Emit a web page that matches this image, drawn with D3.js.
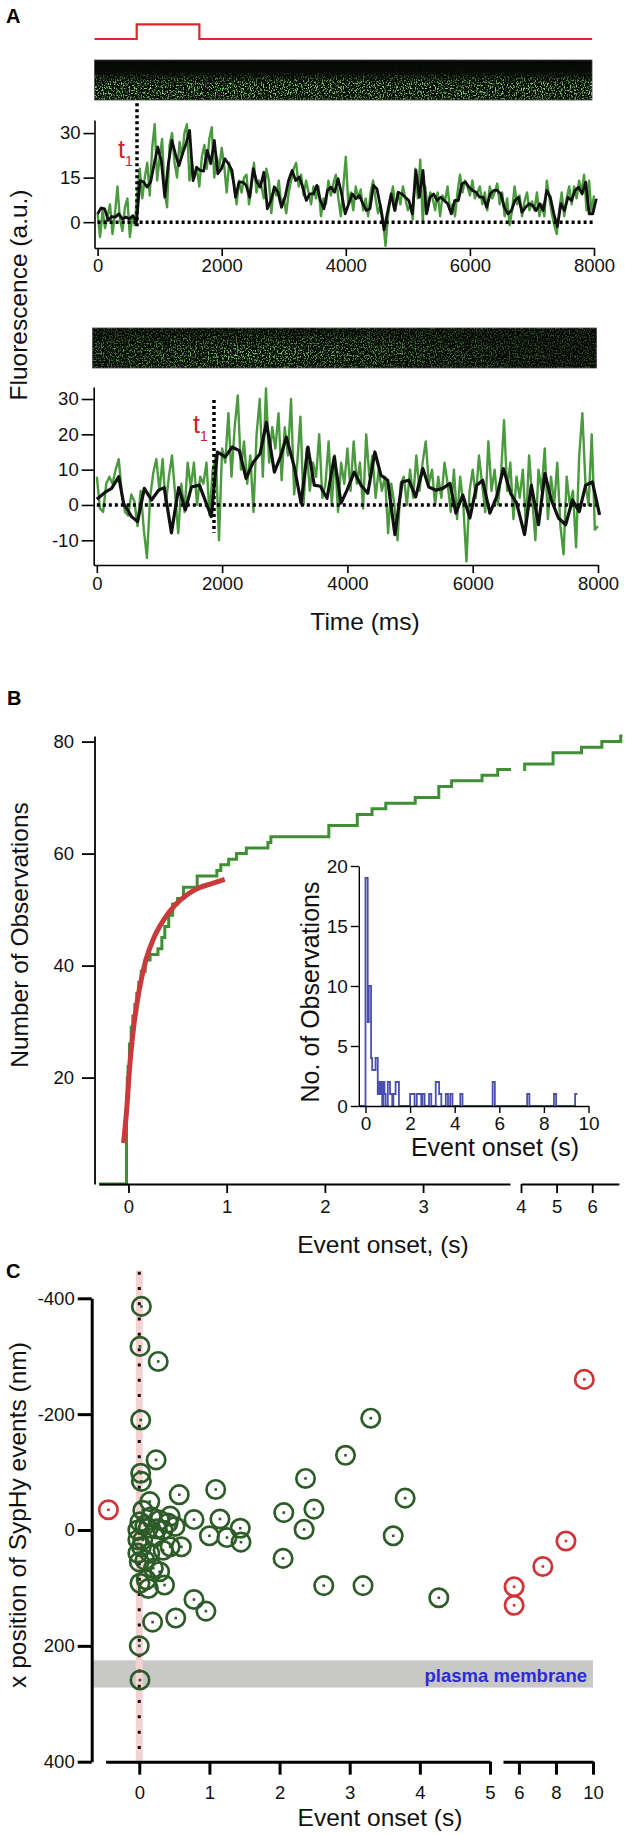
<!DOCTYPE html>
<html>
<head>
<meta charset="utf-8">
<script src="https://cdn.jsdelivr.net/npm/d3@7"></script>
<style>
  body { margin: 0; background: #fff; }
</style>
</head>
<body>
<script>
// ---- panel A: stimulus + two fluorescence traces ----
const stimTime = [-50, 630, 1640, 7970];
const stimLevel = [0, 1, 0, 0];

const a1GreenDt = 40;
const a1Green = [3, -5, 4, -2, 2, 6, -4, 3, 12, 1, -3, 5, 8, -5, 2, -1,
  10, 18, 8, 15, 20, 9, 25, 33, 14, 22,
  28, 10, 5, 26, 30, 20, 15, 27, 22, 30,
  33, 14, 20, 15, 18, 12, 22, 26, 18, 28,
  32, 15, 22, 18, 25, 19, 10, 20, 16, 13,
  6, 14, 10, 15, 16, 6, 12, 20, 10, 14,
  12, 8, 18, 14, 3, 12, 9, 14, 6, 8,
  3, 10, 14, 18, 20, 12, 16, 9, 14, 10,
  6, 12, 8, 12, 2, 8, 6, 14, 9, 13,
  16, 8, 2, 12, 22, 6, 10, 4, 12, 8,
  11, 4, 8, 2, 10, 14, 8, 3, 6, 1,
  -8, 2, 8, 12, 4, 10, 6, 12, 8, 4,
  6, 1, 18, 8, 21, 0, 12, 4, 10, 8,
  4, 10, 2, 9, 7, 12, 4, 6, 2, 10,
  16, 10, 14, 12, 9, 14, 8, 10, 12, 6,
  10, 4, 12, 8, 10, 13, 6, 10, 2, 8,
  -1, 4, 12, 6, 9, 2, 7, 10, 4, 7,
  4, 10, 2, 6, 2, 14, 8, 3, -1, -4,
  4, 10, 2, 8, 12, 6, 12, 8, 14, 10,
  16, 4, 14, 3, 9];

const a1BlackDt = 57;
const a1Black = [2.8, 4.8, 4.5, 0.6, 1.9, 1.7, 2.8, 1.1, 1.7, 1.1, 2.2, 0,
  14, 13.5, 11.8, 13.5, 19.6, 25.3, 20.8, 8.4, 19.6, 27.5, 23, 19, 23, 26.4, 30.9, 14,
  18.5, 17.4, 17.2, 24.2, 19.7, 27.5, 16.3, 18, 21.3, 19.6, 17.4, 8.4, 13.5, 13.5,
  12.4, 8.4, 18, 13.5, 11.8, 16.8, 4.5, 7.3, 11.8, 10.1, 5, 8.4, 14, 17.4, 14, 15.2,
  11.8, 7.3, 9.5, 9.5, 12.4, 7.3, 4.5, 10.7, 11.8, 10.1, 14.6, 9.5, 2.8, 6.2, 9.5,
  7.9, 9, 6.2, 3.9, 4.5, 12.4, 11.2, 5, -2.6, 3.4, 9.5, 3.9, 10.1, 9.5, 8.4, 7.3,
  2.8, 17.4, 8.4, 17.4, 2.8, 8.4, 9.5, 7.3, 8.4, 7.3, 6.2, 2.8, 7.3, 7.3, 12.9,
  13.5, 11.8, 10.7, 10.1, 8.4, 8.4, 5, 9.5, 10.7, 10.7, 9.5, 5, 2.8, 3.9, 7.3, 8.4,
  3.4, 5, 6.2, 5.6, 3.9, 6.2, 3.9, 10.7, 8.4, 2.8, -1.5, 6.2, 3.9, 8.4, 7.3, 10.7,
  11.8, 9.5, 13.5, 2.8, 2.8, 7.9];
const a1Onset = 635;

const a2GreenDt = 50;
const a2Green = [8, -1, -2, 6, 8, 6, 10, 13, 3, -2,
  -3, 3, 1, -6, 4, -7, -15, 2, 9, 13,
  4, 13, 0, 8, 14, 3, -8, 6, -2, 12,
  5, 12, 0, 8, 6, 12, -3, 10, 14, -10,
  16, 12, 26, 8, 22, 31, 10, 18, 6, 14,
  -2, 20, 30, 8, 33, 12, 22, 16, 26, 7,
  22, 14, 30, 3, 12, 25, 0, 16, 4, 12,
  8, 20, 2, 6, 18, 0, 14, -2, 12, 6,
  16, 4, 18, 6, 12, -1, 20, 8, 14, 2,
  10, 4, 8, -8, 6, 0, -10, 6, 8, 0,
  10, 2, 14, 4, 12, 18, 6, 10, 0, 8,
  2, 12, 6, -2, 10, -4, 8, 0, -16, 4,
  10, 2, 14, 6, -2, 18, 4, 10, 0, 8,
  24, 4, 12, -4, 8, 2, 10, -6, 14, 2,
  -10, 10, 4, 16, -4, 8, 0, 12, -6, -14,
  8, 0, 4, -12, 14, 26, 6, 0, 20, -7,
  -6];

const a2BlackTime = [0, 140, 236, 350, 427, 554, 650, 758, 873, 987, 1076, 1191, 1306,
  1414, 1510, 1637, 1828, 1924, 2051, 2159, 2274, 2382, 2497, 2605, 2707, 2834, 2930,
  3025, 3153, 3261, 3369, 3471, 3567, 3675, 3790, 3898, 3994, 4108, 4217, 4325, 4439,
  4535, 4643, 4758, 4873, 4981, 5089, 5204, 5299, 5408, 5522, 5637, 5732, 5841, 5955,
  6064, 6159, 6274, 6382, 6490, 6605, 6701, 6828, 6936, 7051, 7153, 7255, 7369, 7484,
  7592, 7701, 7803, 7911, 8025];
const a2BlackValue = [1.6, 3.7, 4.7, 8, 0.5, -3.3, -4.7, 4.7, 1.4, 4.2, 4.9, -7.9, 4.9,
  -1.4, 5.1, 5.6, -3.3, 15, 13.6, 16.4, 15.4, 7.5, 12.1, 14.5, 23.4, 9.3, 13.6, 19.2,
  10.7, 0.5, 16.4, 5.6, 5.3, 1.9, 13.6, 0.5, 4.2, 9.3, 5.6, 3.3, 15, 8.4, 7, -8.4, 6.5,
  7, 2.3, 10.3, 5.1, 4.2, 4.7, 6.1, -2.3, 2.8, -3.7, 5.6, 7, -2.3, 2.3, 10.3, 3.3, 0.5,
  -8.4, 5.6, -5.6, 8.9, 1.4, -3.7, -5.6, 1.4, -1.9, 5.6, 6.5, -2.8];
const a2Onset = 1870;

const timeTicks = [0, 2000, 4000, 6000, 8000];
const a1YTicks = [0, 15, 30];
const a2YTicks = [-10, 0, 10, 20, 30];

// ---- panel B: cumulative onsets, fit, histogram inset ----
const cumOnset = [-0.3, -0.02, -0.012, -0.004, 0.01, 0.028, 0.045, 0.065, 0.085, 0.105, 0.13, 0.17, 0.22,
  0.3, 0.34, 0.37, 0.41, 0.45, 0.5, 0.56, 0.7, 0.9, 0.94, 1.02, 1.1, 1.2, 1.42, 1.45,
  2.04, 2.33, 2.48, 2.62, 2.92, 3.16, 3.29, 3.6, 3.76, 4.1, 4.9, 5.7, 6.27, 6.8, 6.85];
const cumCount = [1, 14, 20, 22, 26, 29, 31, 33, 35, 37, 39, 41, 42,
  43, 45, 47, 49, 51, 52, 54, 56, 57, 58, 59, 60, 61, 62, 63,
  65, 67, 68, 69, 70, 72, 73, 74, 75, 76, 78, 79, 80, 81, 81];

const fitOnset = [-0.05, -0.018, 0.01, 0.05, 0.11, 0.17, 0.25, 0.36, 0.48, 0.6, 0.72, 0.84, 0.98];
const fitCount = [8.3, 14.3, 21.4, 28.6, 35.7, 40.5, 44.6, 48.2, 50.9, 52.7, 53.9, 54.6, 55.4];

const bYTicks = [20, 40, 60, 80];
const bXTicks1 = [0, 1, 2, 3];
const bXTicks2 = [4, 5, 6];

const histEdge = [-0.3, 0, 0.1, 0.15, 0.25, 0.3, 0.45, 0.55, 0.6, 0.65, 0.7, 0.75, 0.8,
  0.85, 0.9, 1.0, 1.1, 1.2, 1.25, 1.35, 1.5, 2.0, 2.2, 2.3, 2.5, 2.55, 2.65, 2.85, 2.95,
  3.15, 3.3, 3.4, 3.6, 3.7, 3.8, 3.9, 4.25, 4.35, 5.7, 5.8, 7.25, 7.35, 8.45, 8.55, 9.4, 9.5];
const histCount = [0, 19, 7, 10, 4, 3, 4, 1, 2, 1, 2, 0, 2, 1, 0, 2, 1, 0, 1, 2,
  0, 1, 0, 1, 0, 1, 0, 1, 0, 2, 1, 0, 1, 0, 1, 0, 1, 0, 2, 0, 1, 0, 1, 0, 1, 1];
const inYTicks = [0, 5, 10, 15, 20];
const inXTicks = [0, 2, 4, 6, 8, 10];

// ---- panel C: x position vs onset ----
const greenOnset = [0.03, 0.01, 0.27, 0.02, 3.30, 2.94, 0.24, 2.37, 0.02, 0.03,
  3.79, 1.09, 0.57, 0.15, 2.06, 2.49, 0.78, 1.15, 2.35, 3.62,
  1.0, 1.25, 1.44, 1.45, 2.05, 2.63, 3.19, 4.27, 0.78, 0.95,
  0.52, 0.19, 0.0, 0.01, 0.05, 0.17, 0.01, 0.29, 0.41, 0.13,
  -0.02, 0.34, 0.51, 0.22, 0.05, 0.44, 0.6, 0.34, -0.02, 0.08,
  0.2, 0.29, 0.01, 0.13, 0.36, 0.1, 0.03, -0.02, 0.44, 0.08,
  0.25, 0.0, 0.15];
const greenPos = [-386, -317, -291, -190, -193, -129, -121, -89, -98, -84,
  -55, -70, -61, -49, -30, -36, -18, -19, -1, 10,
  10, 13, -3, 21, 49, 96, 96, 117, 120, 140,
  152, 159, 200, 259, -34, -23, -14, -17, -12, -3,
  0, 0, -6, 12, 17, 29, 29, 35, 40, 52,
  66, 72, 92, 101, 95, 86, 29, 17, -24, -8,
  -2, 55, 40];
const redOnset = [-0.44, 5.74, 5.74, 7.29, 8.54, 9.53];
const redPos = [-35, 98, 130, 63, 19, -260];
const membrane = [225, 272];
const cYTicks = [-400, -200, 0, 200, 400];
const cXTicks1 = [0, 1, 2, 3, 4, 5];
const cXTicks2 = [6, 8, 10];

// ---------------------------------------------------------------
const FONT = '"Liberation Sans", Arial, Helvetica, sans-serif';
const TICK_FS = 18.5, TITLE_FS = 24.5;
const intFmt = d3.format("d");

const svg = d3.select("body").append("svg")
  .attr("width", 625).attr("height", 1836)
  .style("background", "#fff");
const defs = svg.append("defs");

let styleAxis = function(g, sw, fs) {
  g.attr("font-size", fs).attr("font-family", FONT);
  g.select(".domain").attr("stroke", "#000").attr("stroke-width", sw);
  g.selectAll(".tick line").attr("stroke", "#000").attr("stroke-width", sw);
  g.selectAll(".tick text").attr("fill", "#111");
};

let title = function(x, y, txt, rotate, fs) {
  let t = svg.append("text")
    .attr("font-family", FONT).attr("font-size", fs || TITLE_FS)
    .attr("text-anchor", "middle").attr("fill", "#111").text(txt);
  if (rotate) t.attr("transform", `translate(${x},${y}) rotate(-90)`);
  else t.attr("x", x).attr("y", y);
  return t;
};

let panelLabel = function(x, y, txt) {
  svg.append("text").attr("x", x).attr("y", y)
    .attr("font-family", FONT).attr("font-weight", "bold").attr("font-size", 20)
    .text(txt);
};

// speckled green kymograph texture; brightness shaped by a gradient mask
let kymo = function(id, x0, x1, y0, y1, grad, seed) {
  let f = defs.append("filter").attr("id", "f" + id)
    .attr("x", 0).attr("y", 0).attr("width", 1).attr("height", 1);
  f.append("feTurbulence").attr("type", "fractalNoise")
    .attr("baseFrequency", "0.85 0.6").attr("numOctaves", 2).attr("seed", seed);
  f.append("feColorMatrix").attr("type", "matrix")
    .attr("values", "0 0 0 0 0.22  0 0 0 0 0.72  0 0 0 0 0.16  5.5 0 0 0 -2.75");
  grad.attr("id", "g" + id);
  defs.append("mask").attr("id", "m" + id)
    .append("rect").attr("x", x0).attr("y", y0)
    .attr("width", x1 - x0).attr("height", y1 - y0).attr("fill", `url(#g${id})`);
  svg.append("rect").attr("x", x0).attr("y", y0)
    .attr("width", x1 - x0).attr("height", y1 - y0).attr("fill", "#070a06")
    .attr("stroke", "#444").attr("stroke-width", 0.8);
  svg.append("g").attr("mask", `url(#m${id})`)
    .append("rect").attr("x", x0).attr("y", y0)
    .attr("width", x1 - x0).attr("height", y1 - y0)
    .attr("fill", "#000").attr("filter", `url(#f${id})`);
};

let addStops = function(grad, stops) {
  stops.forEach(s => grad.append("stop").attr("offset", s[0])
    .attr("stop-color", "#fff").attr("stop-opacity", s[1]));
  return grad;
};

let dotted = function(pts, xs, ys, dash) {
  svg.append("path")
    .attr("d", d3.line().x(d => xs(d[0])).y(d => ys(d[1]))(pts))
    .attr("fill", "none").attr("stroke", "#000").attr("stroke-width", 3.5)
    .attr("stroke-dasharray", dash || "3,3");
};

let tLabel = function(x, y) {
  let t = svg.append("text").attr("x", x).attr("y", y)
    .attr("font-family", FONT).attr("fill", "#cc2229");
  t.append("tspan").attr("font-size", 25).text("t");
  t.append("tspan").attr("font-size", 14).attr("dy", 8).text("1");
};

// ================= Panel A, top =================
panelLabel(6, 23, "A");

const xA1 = d3.scaleLinear().domain([-50, 8000]).range([94.5, 594]);
const yA1 = d3.scaleLinear().domain([-8.7, 34.4]).range([248, 120]);
const yStim = d3.scaleLinear().domain([0, 1]).range([39, 24.3]);

svg.append("path")
  .datum(stimTime.map((t, i) => [t, stimLevel[i]]))
  .attr("d", d3.line().x(d => xA1(d[0])).y(d => yStim(d[1])).curve(d3.curveStepAfter))
  .attr("fill", "none").attr("stroke", "#d42b2b").attr("stroke-width", 2.2);

kymo("k1", 94.5, 592, 60, 100,
  addStops(defs.append("linearGradient").attr("x1", 0).attr("y1", 0).attr("x2", 0).attr("y2", 1),
    [[0, 0], [0.3, 0.05], [0.45, 0.5], [0.6, 0.95], [0.85, 0.95], [1, 0.6]]), 4);

svg.append("path")
  .datum(a1Green)
  .attr("d", d3.line().x((d, i) => xA1(i * a1GreenDt)).y(d => yA1(d)))
  .attr("fill", "none").attr("stroke", "#4c9a3f").attr("stroke-width", 2.4)
  .attr("stroke-linejoin", "round");
dotted([[0, 0], [8000, 0]], xA1, yA1);
svg.append("path")
  .datum(a1Black)
  .attr("d", d3.line().x((d, i) => xA1(i * a1BlackDt)).y(d => yA1(d)))
  .attr("fill", "none").attr("stroke", "#111").attr("stroke-width", 2.8)
  .attr("stroke-linejoin", "round");
dotted([[a1Onset, 40], [a1Onset, -2]], xA1, yA1);
tLabel(xA1(a1Onset) - 19, yA1(21.5));

styleAxis(svg.append("g").attr("transform", `translate(${xA1.range()[0]},0)`)
  .call(d3.axisLeft(yA1).tickValues(a1YTicks).tickSize(11).tickSizeOuter(0).tickPadding(3)),
  1.6, TICK_FS);
styleAxis(svg.append("g").attr("transform", `translate(0,${yA1.range()[0]})`)
  .call(d3.axisBottom(xA1).tickValues(timeTicks).tickFormat(intFmt)
    .tickSize(8).tickSizeOuter(0).tickPadding(3)),
  1.6, TICK_FS);

// ================= Panel A, bottom =================
const xA2 = d3.scaleLinear().domain([-50, 8000]).range([93.7, 598]);
const yA2 = d3.scaleLinear().domain([-17, 33.4]).range([565, 387]);

kymo("k2", 92.5, 596.6, 328, 368,
  addStops(defs.append("radialGradient").attr("cx", 0.33).attr("cy", 0.65)
    .attr("r", 0.6).attr("fx", 0.33).attr("fy", 0.65),
    [[0, 1], [0.35, 0.7], [1, 0.32]]), 11);

svg.append("path")
  .datum(a2Green)
  .attr("d", d3.line().x((d, i) => xA2(i * a2GreenDt)).y(d => yA2(d)))
  .attr("fill", "none").attr("stroke", "#4c9a3f").attr("stroke-width", 2.4)
  .attr("stroke-linejoin", "round");
dotted([[0, 0], [8000, 0]], xA2, yA2);
svg.append("path")
  .datum(a2BlackTime.map((t, i) => [t, a2BlackValue[i]]))
  .attr("d", d3.line().x(d => xA2(d[0])).y(d => yA2(d[1])))
  .attr("fill", "none").attr("stroke", "#111").attr("stroke-width", 3.2)
  .attr("stroke-linejoin", "round");
dotted([[a2Onset, 29.7], [a2Onset, -7.9]], xA2, yA2);
tLabel(xA2(a2Onset) - 21, yA2(20.4));

styleAxis(svg.append("g").attr("transform", `translate(${xA2.range()[0]},0)`)
  .call(d3.axisLeft(yA2).tickValues(a2YTicks).tickFormat(d => String(d))
    .tickSize(12).tickSizeOuter(0).tickPadding(3)),
  1.6, TICK_FS);
styleAxis(svg.append("g").attr("transform", `translate(0,${yA2.range()[0]})`)
  .call(d3.axisBottom(xA2).tickValues(timeTicks).tickFormat(intFmt)
    .tickSize(8).tickSizeOuter(0).tickPadding(4)),
  1.6, TICK_FS);

title(365, 630, "Time (ms)");
title(27, 295, "Fluorescence (a.u.)", true);

// ================= Panel B =================
panelLabel(7, 705, "B");

const yB = d3.scaleLinear().domain([1, 81]).range([1184, 736]);
const xB1 = d3.scaleLinear().domain([-0.3, 3.885]).range([99, 510]);
const xB2 = d3.scaleLinear().domain([4, 6.75]).range([521, 618.9]);

defs.append("clipPath").attr("id", "clipB1").append("rect")
  .attr("x", 0).attr("y", 0).attr("width", xB1.range()[1] + 1).attr("height", 1836);
defs.append("clipPath").attr("id", "clipB2").append("rect")
  .attr("x", xB2(4.06)).attr("y", 0).attr("width", 625).attr("height", 1836);

const cumPts = cumOnset.map((s, i) => [s, cumCount[i]]);
[[xB1, "clipB1"], [xB2, "clipB2"]].forEach(([xs, clip]) => {
  svg.append("path")
    .datum(cumPts)
    .attr("clip-path", `url(#${clip})`)
    .attr("d", d3.line().x(d => xs(d[0])).y(d => yB(d[1])).curve(d3.curveStepAfter))
    .attr("fill", "none").attr("stroke", "#3f8f35").attr("stroke-width", 3);
});

svg.append("path")
  .datum(fitOnset.map((s, i) => [s, fitCount[i]]))
  .attr("d", d3.line().x(d => xB1(d[0])).y(d => yB(d[1])).curve(d3.curveMonotoneX))
  .attr("fill", "none").attr("stroke", "#c93a3c").attr("stroke-width", 5);

styleAxis(svg.append("g").attr("transform", "translate(94.5,0)")
  .call(d3.axisLeft(yB).tickValues(bYTicks).tickFormat(intFmt)
    .tickSize(12.5).tickSizeOuter(0).tickPadding(8)),
  1.8, TICK_FS);
styleAxis(svg.append("g").attr("transform", `translate(0,${yB.range()[0]})`)
  .call(d3.axisBottom(xB1).tickValues(bXTicks1).tickFormat(intFmt)
    .tickSize(9).tickSizeOuter(0).tickPadding(7)),
  1.8, TICK_FS);
styleAxis(svg.append("g").attr("transform", `translate(0,${yB.range()[0]})`)
  .call(d3.axisBottom(xB2).tickValues(bXTicks2).tickFormat(intFmt)
    .tickSize(9).tickSizeOuter(0).tickPadding(7)),
  1.8, TICK_FS);

title(383, 1253, "Event onset, (s)");
title(28, 935, "Number of Observations", true);

// inset histogram
const xIn = d3.scaleLinear().domain([-0.3, 10]).range([358.8, 588.5]);
const yIn = d3.scaleLinear().domain([0, 20]).range([1106, 866]);

svg.append("path")
  .datum(histEdge.map((e, i) => [e, histCount[i]]))
  .attr("d", d3.line().x(d => xIn(d[0])).y(d => yIn(d[1])).curve(d3.curveStepAfter))
  .attr("fill", "none").attr("stroke", "#4a4fae").attr("stroke-width", 1.8);

styleAxis(svg.append("g").attr("transform", `translate(${xIn.range()[0]},0)`)
  .call(d3.axisLeft(yIn).tickValues(inYTicks).tickFormat(intFmt)
    .tickSize(8).tickSizeOuter(0).tickPadding(3)),
  1.4, 19);
styleAxis(svg.append("g").attr("transform", `translate(0,${yIn.range()[0]})`)
  .call(d3.axisBottom(xIn).tickValues(inXTicks).tickFormat(intFmt)
    .tickSize(7).tickSizeOuter(0).tickPadding(4)),
  1.4, 19);
title(495, 1156, "Event onset (s)", false, 25);
title(319, 992, "No. of Observations", true, 25);

// ================= Panel C =================
panelLabel(6, 1278, "C");

const yC = d3.scaleLinear().domain([-400, 400]).range([1298.3, 1761.7]);
const xC1 = d3.scaleLinear().domain([-0.48, 5]).range([105.6, 490]);
const xC2 = d3.scaleLinear().domain([5.14, 10]).range([503, 593]);
const xC = s => (s <= 5 ? xC1(s) : xC2(s));
const axisXC = 91.7;

// plasma membrane band
svg.append("rect")
  .attr("x", axisXC).attr("y", yC(membrane[0]))
  .attr("width", xC2.range()[1] - axisXC).attr("height", yC(membrane[1]) - yC(membrane[0]))
  .attr("fill", "#c8c9c6");
svg.append("text")
  .attr("x", xC2.range()[1] - 6).attr("y", yC(membrane[1]) - 6)
  .attr("text-anchor", "end").attr("font-family", FONT).attr("font-weight", "bold")
  .attr("font-size", 18.5).attr("fill", "#2b2bd8").text("plasma membrane");

// pink band and dotted line at onset 0
svg.append("rect")
  .attr("x", xC1(0) - 3.5).attr("y", yC(-448))
  .attr("width", 7).attr("height", yC(404) - yC(-448))
  .attr("fill", "#f5d3d3");
svg.append("path")
  .attr("d", d3.line()([[xC1(0), yC(-446)], [xC1(0), yC(404)]]))
  .attr("stroke", "#111").attr("stroke-width", 3).attr("stroke-dasharray", "3,12.3");

let rings = function(onsets, pos, color) {
  let g = svg.append("g");
  onsets.forEach((s, i) => {
    g.append("circle").attr("cx", xC(s)).attr("cy", yC(pos[i])).attr("r", 9.2)
      .attr("fill", "none").attr("stroke", color).attr("stroke-width", 2.7);
    g.append("rect").attr("x", xC(s) - 1.3).attr("y", yC(pos[i]) - 1.3)
      .attr("width", 2.6).attr("height", 2.6).attr("fill", color);
  });
};
rings(greenOnset, greenPos, "#2e5c29");
rings(redOnset, redPos, "#cf3536");

styleAxis(svg.append("g").attr("transform", `translate(${axisXC},0)`)
  .call(d3.axisLeft(yC).tickValues(cYTicks).tickFormat(d => String(d))
    .tickSize(14).tickSizeOuter(0).tickPadding(3)),
  3, TICK_FS);
styleAxis(svg.append("g").attr("transform", `translate(0,${yC.range()[1]})`)
  .call(d3.axisBottom(xC1).tickValues(cXTicks1).tickFormat(intFmt)
    .tickSize(13).tickSizeOuter(0).tickPadding(11)),
  3, TICK_FS);
styleAxis(svg.append("g").attr("transform", `translate(0,${yC.range()[1]})`)
  .call(d3.axisBottom(xC2).tickValues(cXTicks2).tickFormat(intFmt)
    .tickSize(13).tickSizeOuter(0).tickPadding(11)),
  3, TICK_FS);

title(380, 1826, "Event onset (s)");
title(26, 1515, "x position of SypHy events (nm)", true);
</script>
</body>
</html>
